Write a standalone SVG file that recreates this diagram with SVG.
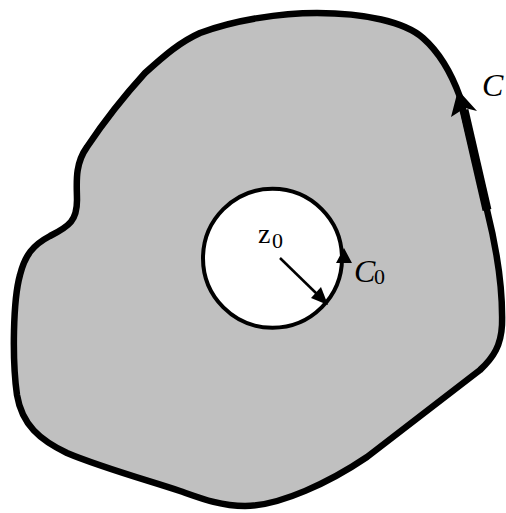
<svg xmlns="http://www.w3.org/2000/svg" width="506" height="513" viewBox="0 0 506 513">
<style>
.lbl{font-family:"Liberation Serif","Times New Roman",serif;fill:#000}
.it{font-style:italic}
</style>
<rect width="506" height="513" fill="#fff"/>
<g id="region">
<path d="M 200,33 C 235,20 280,13 317,13 C 365,13 405,22 423,38 C 440,53 452,75 460,97 L 487,210 C 497,250 503,290 502,325 C 501,345 494,357 480,370 L 367,457 C 330,482 280,506 245,506 C 220,506 200,498 180,491 C 150,481 100,467 67,453 C 40,440 22,425 17,395 C 12,360 13,300 20,275 C 25,255 33,245 50,236 C 70,226 77,220 77,200 C 77,185 74,165 87,147 C 105,120 125,95 145,73 C 165,55 180,42 200,33 Z" fill="#c0c0c0" stroke="#000" stroke-width="6.5" stroke-linejoin="round"/>
<line x1="464" y1="110" x2="487" y2="210" stroke="#000" stroke-width="9"/>
<polygon points="458,90 477,111 465,108 451,117" fill="#000"/>
</g>
<g id="hole">
<circle cx="272.5" cy="258.3" r="69.5" fill="#fff" stroke="#000" stroke-width="4"/>
<polygon points="344,248 352,263 336,263" fill="#000"/>
</g>
<g id="connectors">
<line x1="280" y1="258" x2="318" y2="295" stroke="#000" stroke-width="2.5"/>
<polygon points="328,305 311,298 321,287" fill="#000"/>
</g>
<g id="labels">
<text class="lbl it" x="482" y="96" font-size="32">C</text>
<text class="lbl" x="258" y="243" font-size="28">z</text>
<text class="lbl" x="272" y="248" font-size="22">0</text>
<text class="lbl it" x="354" y="282" font-size="32">C</text>
<text class="lbl" x="374" y="284" font-size="22">0</text>
</g>
</svg>
